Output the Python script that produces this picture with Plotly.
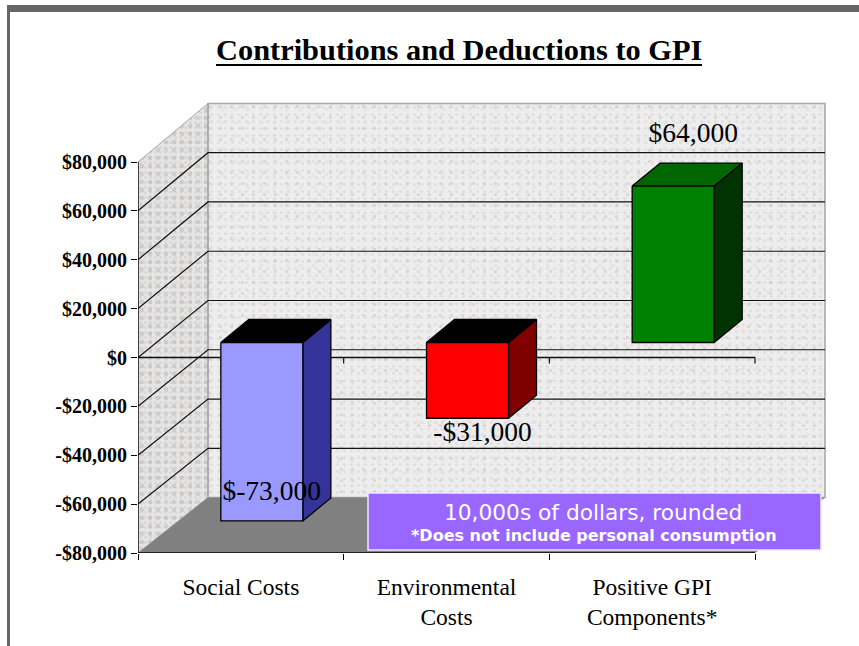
import plotly.graph_objects as go

# ---- data ----
categories = ["Social Costs", "Environmental<br>Costs", "Positive GPI<br>Components*"]
values = [-73000, -31000, 64000]
value_labels = ["$-73,000", "-$31,000", "$64,000"]
front_colors = ["#9999ff", "#ff0000", "#008000"]
side_colors = ["#333399", "#800000", "#003300"]
top_colors = ["#000000", "#000000", "#006600"]
y_ticks = [-80000, -60000, -40000, -20000, 0, 20000, 40000, 60000, 80000]
y_tick_labels = ["-$80,000", "-$60,000", "-$40,000", "-$20,000", "$0",
                 "$20,000", "$40,000", "$60,000", "$80,000"]
title_text = "Contributions and Deductions to GPI"
note_line1 = "10,000s of dollars, rounded"
note_line2 = "*Does not include personal consumption"

# ---- geometry of the pseudo-3D box, in axis units ----
W, H = 859, 646
L, R, T, B = 138, 830, 90, 553
PX_X = 205.67
PX_Y = 391 / 160000
X_RANGE = [0, (R - L) / PX_X]
Y_RANGE = [-80000, -80000 + (B - T) / PX_Y]
DX = 70 / PX_X
BAR_W = 82 / PX_X
BAR_SHIFT = -20 / PX_X
BAR_LIFT = 15 / PX_Y
BAR_DX = 28 / PX_X
BAR_DY = 23 / PX_Y
n = len(categories)


def back(v):
    return v * 1.008 + 57 / PX_Y


def px(x):
    return (x - L) / (R - L)


def py(y):
    return (B - y) / (B - T)


def poly(xs, ys, fill, line=None, width=1, pattern=None):
    kw = dict(x=xs, y=ys, mode="lines", fill="toself", fillcolor=fill,
              line=dict(color=line or fill, width=width if line else 0),
              hoverinfo="skip", showlegend=False)
    if pattern:
        kw["fillpattern"] = pattern
    return go.Scatter(**kw)


def seg(xs, ys, color="#000000", width=1):
    return go.Scatter(x=xs, y=ys, mode="lines", line=dict(color=color, width=width),
                      hoverinfo="skip", showlegend=False, cliponaxis=False)


fig = go.Figure()
lo, hi = y_ticks[0], y_ticks[-1]
CLEAR = "rgba(0,0,0,0)"

# walls: a light base with a few overlaid speckle layers of differing pitch
back_x = [DX, n + DX, n + DX, DX, DX]
back_y = [back(lo), back(lo), back(hi), back(hi), back(lo)]
side_x = [0, DX, DX, 0, 0]
side_y = [lo, back(lo), back(hi), hi, lo]
fig.add_trace(poly(back_x, back_y, "#ececec"))
fig.add_trace(poly(side_x, side_y, "#e6e6e6"))
for size, sol, col in [(3, 0.25, "#f6f6f6"), (7, 0.16, "#d2d2d2"), (11, 0.08, "#c4c4c4"), (13, 0.08, "#ecd9cc")]:
    fig.add_trace(poly(back_x, back_y, CLEAR, pattern=dict(shape=".", size=size, solidity=sol,
                                                          fgcolor=col, bgcolor=CLEAR)))
for size, sol, col in [(5, 0.3, "#c9c9c9"), (8, 0.28, "#b5b5b5"), (11, 0.12, "#ecd9cc")]:
    fig.add_trace(poly(side_x, side_y, CLEAR, pattern=dict(shape=".", size=size, solidity=sol,
                                                          fgcolor=col, bgcolor=CLEAR)))
fig.add_trace(seg(back_x, back_y, "#a6a6a6", 1.5))
fig.add_trace(seg(side_x, side_y, "#a6a6a6", 1))
fig.add_trace(poly([0, DX, n + DX, n, 0], [lo, back(lo), back(lo), lo, lo], "#808080"))

# gridlines
for v in y_ticks[1:-1]:
    fig.add_trace(seg([0, DX, n + DX], [v, back(v), back(v)], "#111111", 1.2))

# front zero line with its ticks
fig.add_trace(seg([0, n], [0, 0], "#111111", 1.4))
for i in range(1, n + 1):
    fig.add_trace(seg([i, i], [0, -2500], "#111111", 1.2))

# bars
for i, v in enumerate(values):
    x0 = i + 0.5 + BAR_SHIFT
    x1 = x0 + BAR_W
    y0 = BAR_LIFT
    yv = v + BAR_LIFT
    ya, yb = max(y0, yv), min(y0, yv)
    fig.add_trace(poly([x1, x1 + BAR_DX, x1 + BAR_DX, x1, x1],
                       [ya, ya + BAR_DY, yb + BAR_DY, yb, ya],
                       side_colors[i], "#000000", 1.3))
    fig.add_trace(poly([x0, x0 + BAR_DX, x1 + BAR_DX, x1, x0],
                       [ya, ya + BAR_DY, ya + BAR_DY, ya, ya],
                       top_colors[i], "#000000", 1.3))
    fig.add_trace(poly([x0, x1, x1, x0, x0], [ya, ya, yb, yb, ya],
                       front_colors[i], "#000000", 1.3))

# value labels
LABEL_DX = [0.15, 0.175, 0.2]
LABEL_DY = [28 / PX_Y, -16 / PX_Y, 51 / PX_Y]
for i, v in enumerate(values):
    yv = v + BAR_LIFT
    fig.add_trace(go.Scatter(x=[i + 0.5 + LABEL_DX[i]], y=[yv + LABEL_DY[i]], mode="text",
                             text=[value_labels[i]], textposition="middle center",
                             textfont=dict(family="Liberation Serif", size=27.5, color="#000000"),
                             hoverinfo="skip", showlegend=False, cliponaxis=False))

# y axis line
fig.add_trace(seg([0, 0], [lo, hi], "#000000", 1.4))
# bottom axis line
fig.add_trace(seg([0, n], [lo, lo], "#000000", 1.6))

band = "#666666"
shapes = [
    dict(type="rect", xref="paper", yref="paper", x0=px(7), x1=px(859), y0=py(5), y1=py(12),
         fillcolor=band, line_width=0),
    dict(type="rect", xref="paper", yref="paper", x0=px(7), x1=px(10), y0=py(5), y1=py(646),
         fillcolor=band, line_width=0),
    dict(type="rect", xref="paper", yref="paper", x0=px(368), x1=px(821), y0=py(493), y1=py(550),
         fillcolor="#9966ff", line=dict(color="#f0e8ff", width=1.5)),
    dict(type="line", xref="paper", yref="paper", x0=px(216), x1=px(702), y0=py(65), y1=py(65),
         line=dict(color="#000000", width=2)),
]
annotations = [
    dict(text="<b>" + title_text + "</b>", xref="paper", yref="paper", x=px(459), y=py(50),
         xanchor="center", yanchor="middle", showarrow=False,
         font=dict(family="Liberation Serif", size=30.4, color="#000000")),
    dict(text=note_line1, xref="paper", yref="paper", x=px(593), y=py(512),
         xanchor="center", yanchor="middle", showarrow=False,
         font=dict(family="DejaVu Sans", size=21.7, color="#ffffff")),
    dict(text="<b>" + note_line2 + "</b>", xref="paper", yref="paper", x=px(594), y=py(535),
         xanchor="center", yanchor="middle", showarrow=False,
         font=dict(family="DejaVu Sans", size=16, color="#ffffff")),
]

fig.update_layout(
    width=W, height=H, margin=dict(l=L, r=W - R, t=T, b=H - B),
    paper_bgcolor="#ffffff", plot_bgcolor="rgba(0,0,0,0)", showlegend=False,
    shapes=shapes, annotations=annotations,
    xaxis=dict(range=X_RANGE, showgrid=False, zeroline=False, showline=False,
               tickmode="array", tickvals=[i + 0.5 for i in range(n)],
               ticktext=categories,
               ticks="", ticklabelstandoff=17,
               tickfont=dict(family="Liberation Serif", size=23.5, color="#000000"),
               minor=dict(ticks="outside", ticklen=6, tickwidth=1.4, tickcolor="#000000",
                          tickmode="array", tickvals=list(range(n + 1)), showgrid=False)),
    yaxis=dict(range=Y_RANGE, showgrid=False, zeroline=False, showline=False,
               tickmode="array", tickvals=y_ticks, ticktext=["<b>%s</b>" % t for t in y_tick_labels],
               ticks="outside", ticklen=6, tickwidth=1.4, tickcolor="#000000",
               tickfont=dict(family="Liberation Serif", size=20, color="#000000")),
)

fig.write_html("out.html", config=dict(displayModeBar=False),
               post_script="document.body.style.margin='0';")
